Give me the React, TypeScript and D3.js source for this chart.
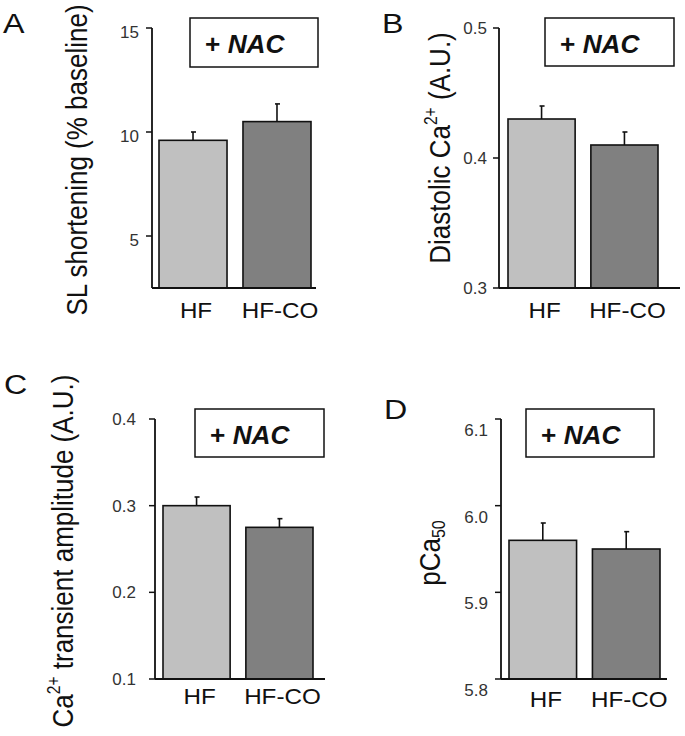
import React from "react";
import * as d3 from "d3";

const categories = ["HF", "HF-CO"];

const slMeans = [9.6, 10.5];
const slErrors = [0.4, 0.85];
const slTicks = [5, 10, 15];

const diaMeans = [0.43, 0.41];
const diaErrors = [0.01, 0.01];
const diaTicks = [0.3, 0.4, 0.5];

const ampMeans = [0.3, 0.275];
const ampErrors = [0.01, 0.01];
const ampTicks = [0.1, 0.2, 0.3, 0.4];

const pcaMeans = [5.96, 5.95];
const pcaErrors = [0.02, 0.02];
const pcaTicks = [5.8, 5.9, 6.0, 6.1];

const boxLabel = "NAC";
const barColors = ["#c0c0c0", "#808080"];
const FONT = "'Liberation Sans', Arial, Helvetica, sans-serif";

type Panel = {
  letter: string;
  letterX: number;
  letterY: number;
  means: number[];
  errors: number[];
  ticks: number[];
  tickFmt: (v: number) => string;
  domain: [number, number];
  yRange: [number, number];
  axisX: number;
  axisEnd: number;
  barRange: [number, number];
  tickDy: number;
  tickGap: number;
  box: [number, number, number, number];
  labelY: number;
  ylabel: React.ReactNode;
  ylabelX: number;
  ylabelY: number;
};

const supThen = (s: string, rest: string) => (
  <>
    <tspan fontSize="0.6em" dy="-0.75em">{s}</tspan>
    <tspan dy="0.45em">{rest}</tspan>
  </>
);

const panels: Panel[] = [
  {
    letter: "A", letterX: 3, letterY: 33,
    means: slMeans, errors: slErrors, ticks: slTicks,
    tickFmt: d3.format("d"),
    domain: [2.5, 15], yRange: [288, 28],
    axisX: 152, axisEnd: 316, barRange: [159, 311], tickDy: 4, tickGap: 13,
    box: [190, 18, 128, 49], labelY: 318,
    ylabel: <>SL shortening (% baseline)</>,
    ylabelX: 87, ylabelY: 160,
  },
  {
    letter: "B", letterX: 382, letterY: 33,
    means: diaMeans, errors: diaErrors, ticks: diaTicks,
    tickFmt: d3.format(".1f"),
    domain: [0.3, 0.5], yRange: [288, 28],
    axisX: 499, axisEnd: 680, barRange: [508, 658], tickDy: 0, tickGap: 12,
    box: [545, 18, 129, 48], labelY: 318,
    ylabel: <>Diastolic Ca{supThen("2+", " (A.U.)")}</>,
    ylabelX: 450, ylabelY: 148,
  },
  {
    letter: "C", letterX: 4, letterY: 394,
    means: ampMeans, errors: ampErrors, ticks: ampTicks,
    tickFmt: d3.format(".1f"),
    domain: [0.1, 0.4], yRange: [679, 419],
    axisX: 155, axisEnd: 325, barRange: [163, 313], tickDy: 0, tickGap: 19,
    box: [195, 409, 129, 48], labelY: 704,
    ylabel: <>Ca{supThen("2+", " transient amplitude (A.U.)")}</>,
    ylabelX: 73, ylabelY: 551,
  },
  {
    letter: "D", letterX: 384, letterY: 419,
    means: pcaMeans, errors: pcaErrors, ticks: pcaTicks,
    tickFmt: d3.format(".1f"),
    domain: [5.8, 6.1], yRange: [679, 419],
    axisX: 501, axisEnd: 667, barRange: [509, 660], tickDy: 11, tickGap: 13,
    box: [526, 409, 128, 48], labelY: 707,
    ylabel: (
      <>
        pCa<tspan fontSize="0.62em" dy="0.3em">50</tspan>
      </>
    ),
    ylabelX: 440, ylabelY: 553,
  },
];

function PanelView({ p }: { p: Panel }) {
  const y = d3.scaleLinear().domain(p.domain).range(p.yRange);
  const x = d3.scaleBand<string>().domain(categories).range(p.barRange).paddingInner(0.19).paddingOuter(0);
  const bw = x.bandwidth();
  const base = p.yRange[0];
  return (
    <g>
      <text transform={`translate(${p.letterX},${p.letterY}) scale(1.15,1)`} fontFamily={FONT} fontSize={28} fill="#111">{p.letter}</text>
      {categories.map((c, i) => {
        const x0 = x(c)!;
        const top = y(p.means[i]);
        const errTop = y(p.means[i] + p.errors[i]);
        const cx = x0 + bw / 2;
        return (
          <g key={c}>
            <line x1={cx} x2={cx} y1={top} y2={errTop} stroke="#111" strokeWidth={1.6} />
            <line x1={cx - 2} x2={cx + 3} y1={errTop} y2={errTop} stroke="#111" strokeWidth={1.6} />
            <rect x={x0} y={top} width={bw} height={base - top} fill={barColors[i]} stroke="#111" strokeWidth={1.6} />
            <text transform={`translate(${cx + 3},${p.labelY}) scale(1.1,1)`} textAnchor="middle" fontFamily={FONT} fontSize={22} fill="#111">{c}</text>
          </g>
        );
      })}
      <line x1={p.axisX} x2={p.axisX} y1={p.yRange[1]} y2={base} stroke="#111" strokeWidth={1.8} />
      <line x1={p.axisX} x2={p.axisEnd} y1={base} y2={base} stroke="#111" strokeWidth={1.8} />
      {p.ticks.map((t) => (
        <g key={t}>
          <line x1={p.axisX - 6} x2={p.axisX} y1={y(t)} y2={y(t)} stroke="#111" strokeWidth={1.5} />
          <text x={p.axisX - p.tickGap} y={y(t) + p.tickDy} dy="0.35em" textAnchor="end" fontFamily={FONT} fontSize={17} fill="#333">
            {p.tickFmt(t)}
          </text>
        </g>
      ))}
      <rect x={p.box[0]} y={p.box[1]} width={p.box[2]} height={p.box[3]} fill="white" stroke="#111" strokeWidth={1.5} />
      <text transform={`translate(${p.box[0] + 15},${p.box[1] + 35}) scale(1.05,1)`} fontFamily={FONT} fontSize={25} fontWeight="bold" fill="#111">
        +{" "}<tspan fontStyle="italic">{boxLabel}</tspan>
      </text>
      <text
        transform={`translate(${p.ylabelX},${p.ylabelY}) scale(1.12,1) rotate(-90)`}
        textAnchor="middle"
        fontFamily={FONT}
        fontSize={26}
        fill="#111"
      >
        {p.ylabel}
      </text>
    </g>
  );
}

export default function App() {
  return (
    <svg width={685} height={736} style={{ position: "absolute", left: 0, top: 0, background: "white" }}>
      <rect width={685} height={736} fill="white" />
      {panels.map((p) => (
        <PanelView key={p.letter} p={p} />
      ))}
    </svg>
  );
}
